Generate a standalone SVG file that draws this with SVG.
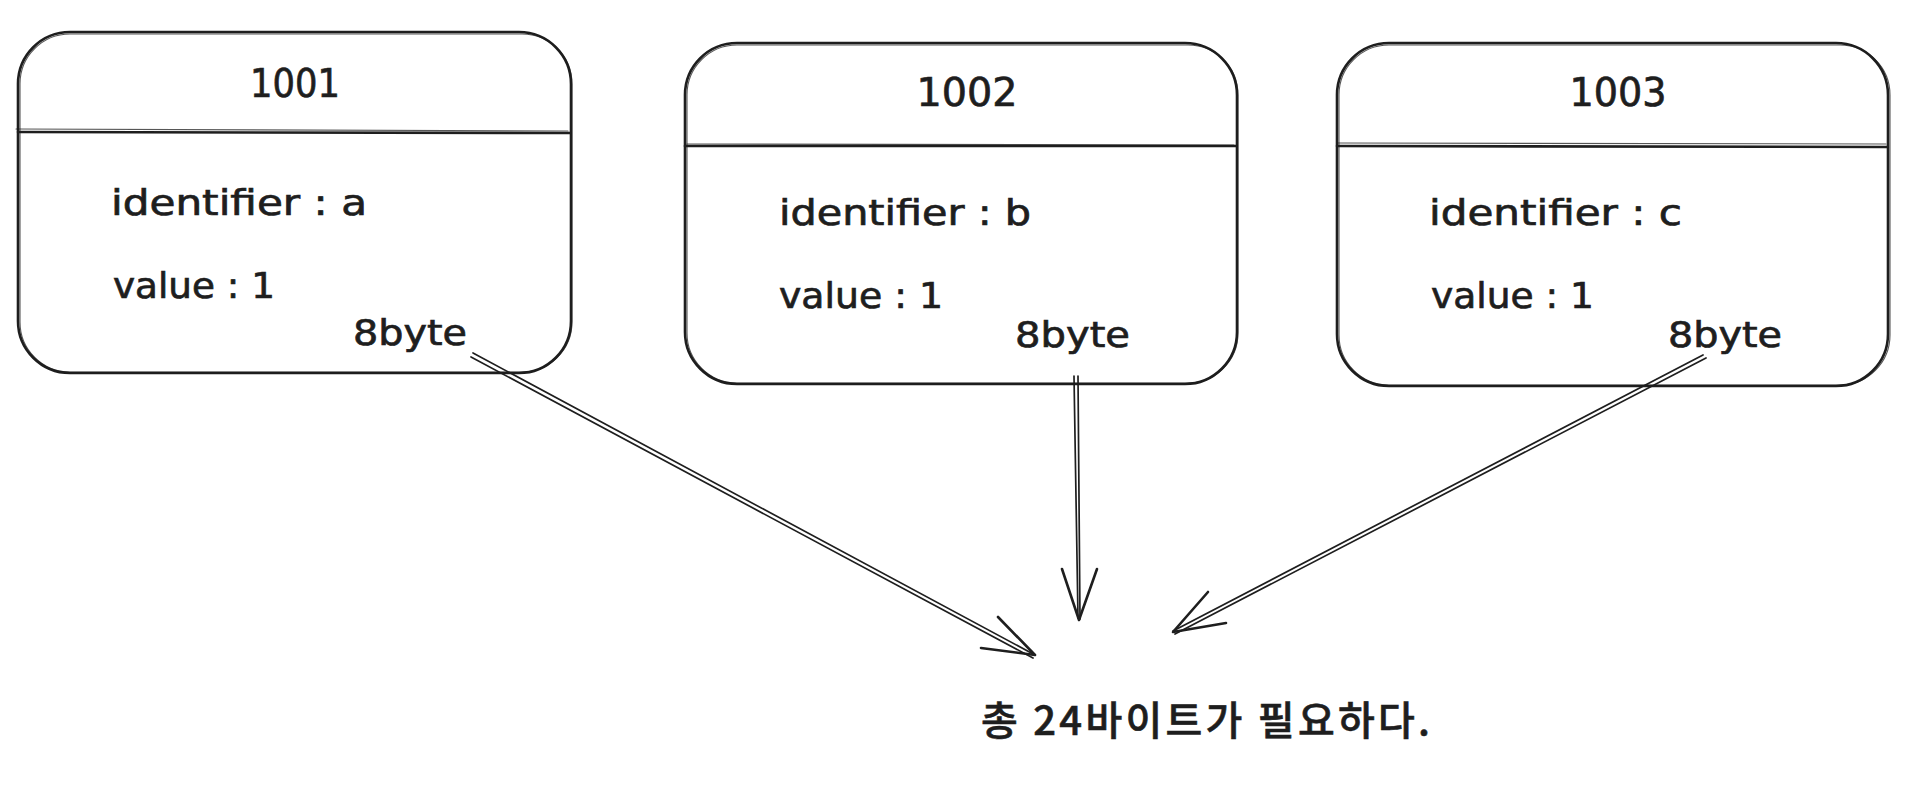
<svg xmlns="http://www.w3.org/2000/svg" width="1912" height="788" viewBox="0 0 1912 788">
<style>
.bx{fill:none;stroke:#1e1e1e;stroke-width:2.6;stroke-linecap:round}
.bx2{fill:none;stroke:#1e1e1e;stroke-width:1.1;stroke-opacity:0.75;stroke-linecap:round}
.t{font-family:"DejaVu Sans","Liberation Sans",sans-serif;fill:#1e1e1e;stroke:#1e1e1e;stroke-width:0.7}
.ti{font-size:39px}
.tb{font-size:35px}
.k{font-family:"Noto Sans CJK KR","Noto Sans",sans-serif;font-size:40px;font-weight:500;fill:#1e1e1e;stroke:#1e1e1e;stroke-width:0.6}
.ar{fill:none;stroke:#1e1e1e;stroke-width:1.7;stroke-linecap:round}
.ah{fill:none;stroke:#1e1e1e;stroke-width:2.6;stroke-linecap:round;stroke-linejoin:round}
</style>
<rect width="1912" height="788" fill="#ffffff"/>
<g id="node-1001">
<rect class="bx" x="18" y="32" width="553" height="341" rx="52"/>
<rect class="bx2" x="20" y="34" width="552" height="338" rx="50"/>
<line class="bx" x1="18" y1="132" x2="570" y2="133"/>
<line class="bx2" x1="16" y1="129" x2="568" y2="131"/>
<text class="t ti" x="295" y="97" text-anchor="middle" textLength="90" lengthAdjust="spacingAndGlyphs">1001</text>
<text class="t tb" x="111" y="215" textLength="256" lengthAdjust="spacingAndGlyphs">identifier : a</text>
<text class="t tb" x="113" y="298" textLength="162" lengthAdjust="spacingAndGlyphs">value : 1</text>
<text class="t tb" x="353" y="345" textLength="114" lengthAdjust="spacingAndGlyphs">8byte</text>
</g>
<g id="node-1002">
<rect class="bx" x="685" y="43" width="552" height="341" rx="52"/>
<rect class="bx2" x="687" y="45" width="551" height="338" rx="50"/>
<line class="bx" x1="685" y1="146" x2="1236" y2="146"/>
<line class="bx2" x1="687" y1="144" x2="1234" y2="145"/>
<text class="t ti" x="967" y="106" text-anchor="middle" textLength="101" lengthAdjust="spacingAndGlyphs">1002</text>
<text class="t tb" x="779" y="225" textLength="252" lengthAdjust="spacingAndGlyphs">identifier : b</text>
<text class="t tb" x="779" y="308" textLength="164" lengthAdjust="spacingAndGlyphs">value : 1</text>
<text class="t tb" x="1015" y="347" textLength="115" lengthAdjust="spacingAndGlyphs">8byte</text>
</g>
<g id="node-1003">
<rect class="bx" x="1337" y="43" width="551" height="343" rx="52"/>
<rect class="bx2" x="1339" y="45" width="551" height="340" rx="50"/>
<line class="bx" x1="1337" y1="146" x2="1887" y2="147"/>
<line class="bx2" x1="1338" y1="143" x2="1886" y2="144"/>
<text class="t ti" x="1618" y="106" text-anchor="middle" textLength="97" lengthAdjust="spacingAndGlyphs">1003</text>
<text class="t tb" x="1429" y="225" textLength="253" lengthAdjust="spacingAndGlyphs">identifier : c</text>
<text class="t tb" x="1431" y="308" textLength="163" lengthAdjust="spacingAndGlyphs">value : 1</text>
<text class="t tb" x="1668" y="347" textLength="114" lengthAdjust="spacingAndGlyphs">8byte</text>
</g>
<g id="connectors">
<line class="ar" x1="473" y1="353" x2="1035" y2="655"/>
<line class="ar" x1="471" y1="357" x2="1033" y2="658"/>
<polyline class="ah" points="998,617 1035,655 981,648"/>
<line class="ar" x1="1074" y1="376" x2="1078" y2="618"/>
<line class="ar" x1="1078" y1="376" x2="1080" y2="619"/>
<polyline class="ah" points="1062,569 1079,620 1097,569"/>
<line class="ar" x1="1703" y1="355" x2="1173" y2="631"/>
<line class="ar" x1="1706" y1="358" x2="1175" y2="634"/>
<polyline class="ah" points="1208,592 1173,632 1226,623"/>
</g>
<g id="label-total">
<text class="k" x="981" y="735" textLength="449" lengthAdjust="spacing">총 24바이트가 필요하다.</text>
</g>
</svg>
